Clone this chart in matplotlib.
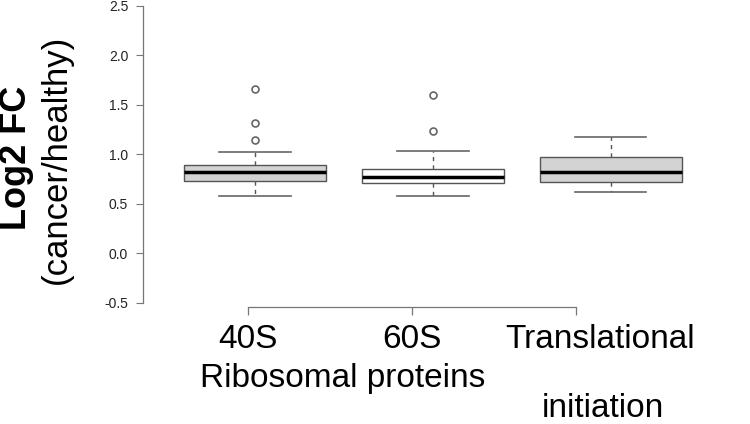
import matplotlib
matplotlib.use("Agg")
import matplotlib.pyplot as plt
import matplotlib.transforms as mtransforms

plt.rcParams['font.family'] = ['Liberation Sans', 'DejaVu Sans']

# values
groups = ["40S", "60S", "Translational"]
q1 = [0.73, 0.71, 0.72]
medians = [0.82, 0.77, 0.82]
q3 = [0.89, 0.85, 0.97]
whislo = [0.585, 0.585, 0.62]
whishi = [1.03, 1.04, 1.18]
fliers = [[1.15, 1.32, 1.66], [1.24, 1.60], []]
fills = ["#d3d3d3", "#ffffff", "#d3d3d3"]
yticks = [-0.5, 0.0, 0.5, 1.0, 1.5, 2.0, 2.5]

stats = []
for i in range(len(groups)):
    stats.append(dict(med=medians[i], q1=q1[i], q3=q3[i],
                      whislo=whislo[i], whishi=whishi[i], fliers=fliers[i]))

fig = plt.figure(figsize=(7.5, 4.24), dpi=100)
ax = fig.add_axes([0.1913, 0.2854, 0.74, 0.7005])

positions = [1, 2, 3]
bp = ax.bxp(stats, positions=positions, widths=0.8, patch_artist=True,
            showfliers=True,
            boxprops=dict(edgecolor="#555555", linewidth=1.0),
            medianprops=dict(color="black", linewidth=2.5),
            whiskerprops=dict(color="#555555", linestyle=(0, (3, 3)), linewidth=1.0),
            capprops=dict(color="#666666", linewidth=1.2),
            capwidths=0.4,
            flierprops=dict(marker="o", markerfacecolor="white",
                            markeredgecolor="#666666", markersize=5, markeredgewidth=1.2))
for patch, c in zip(bp["boxes"], fills):
    patch.set_facecolor(c)

ax.set_xlim(0.374, 3.492)
ax.set_ylim(-0.5, 2.5)
ax.set_yticks(yticks)
ax.set_yticklabels(["%.1f" % v for v in yticks], fontsize=10, color="#222222")
ax.tick_params(axis="y", length=5, width=0.8, color="#777777", pad=6)
for s in ["top", "right", "bottom"]:
    ax.spines[s].set_visible(False)
ax.spines["left"].set_color("#777777")
ax.spines["left"].set_linewidth(0.9)
ax.set_xticks([])

# the category axis is drawn a bit apart from the boxes, as in the original
ax2 = fig.add_axes([0.1913, 1 - 307 / 424, 0.74, 0.001])
ax2.set_xlim(0.363, 3.747)
ax2.set_xticks(positions)
ax2.set_xticklabels(groups, fontsize=24)
ax2.tick_params(axis="x", length=6, width=0.9, color="#777777", pad=6)
ax2.set_yticks([])
for s in ["top", "right", "left"]:
    ax2.spines[s].set_visible(False)
ax2.spines["bottom"].set_bounds(1, 3)
ax2.spines["bottom"].set_color("#777777")
ax2.spines["bottom"].set_linewidth(0.9)
ax2.patch.set_visible(False)

# last label sits a little right of its tick in the original
lbl = ax2.get_xticklabels()[2]
lbl.set_transform(lbl.get_transform() +
                  mtransforms.ScaledTranslation(0.24, 0, fig.dpi_scale_trans))

fig.text(343 / 750, 1 - 387 / 424, "Ribosomal proteins", fontsize=24,
         ha="center", va="baseline")
fig.text(603 / 750, 1 - 417 / 424, "initiation", fontsize=24,
         ha="center", va="baseline")

fig.text(17 / 750, 1 - 158 / 424, "Log2 FC", fontsize=26, fontweight="bold",
         rotation=90, ha="center", va="center")
fig.text(56 / 750, 1 - 159 / 424, "(cancer/healthy)", fontsize=25,
         rotation=90, ha="center", va="center")

fig.savefig("out.png", dpi=100)
